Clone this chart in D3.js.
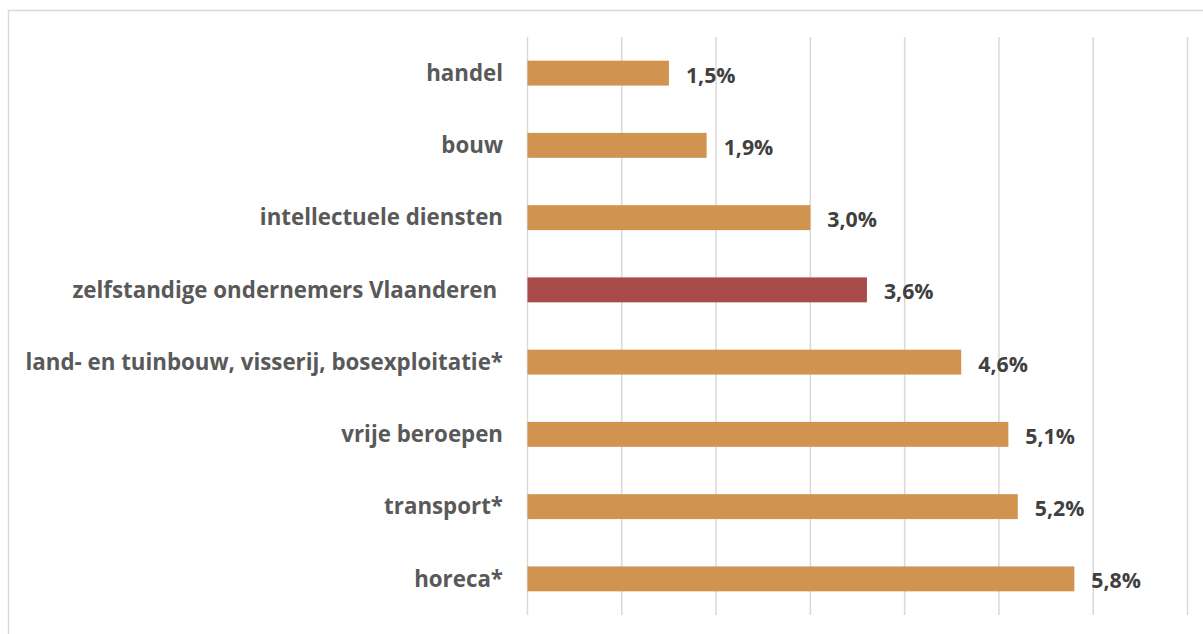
<!DOCTYPE html>
<html><head><meta charset="utf-8">
<script src="https://cdn.jsdelivr.net/npm/d3@7"></script>
<style>body{margin:0;background:#fff}svg{display:block}text{font-family:"Open Sans",sans-serif;font-weight:700;fill:#595959;white-space:pre}</style>
</head><body><svg id="c" width="1203" height="634"></svg>
<script>
const categories = ["handel","bouw","intellectuele diensten","zelfstandige ondernemers Vlaanderen ","land- en tuinbouw, visserij, bosexploitatie*","vrije beroepen","transport*","horeca*"];
const values = [1.5,1.9,3.0,3.6,4.6,5.1,5.2,5.8];
const valueLabels = ["1,5%","1,9%","3,0%","3,6%","4,6%","5,1%","5,2%","5,8%"];
const highlight = "zelfstandige ondernemers Vlaanderen ";
const xTicks = [0,1,2,3,4,5,6,7];

const svg = d3.select("#c");
// chart border
svg.append("rect").attr("x",8.5).attr("y",10.5).attr("width",1203).attr("height",640)
  .attr("fill","none").attr("stroke","#d9d9d9").attr("stroke-width",1.5);

const x = d3.scaleLinear().domain([0,7]).range([527.5,1187.5]);
const y = d3.scaleBand().domain(categories).range([37,615]).paddingInner(0.655).paddingOuter(0.3275);

svg.append("g").selectAll("line").data(xTicks).join("line")
  .attr("x1",d=>x(d)).attr("x2",d=>x(d)).attr("y1",37).attr("y2",615)
  .attr("stroke","#d9d9d9").attr("stroke-width",1.5);

svg.append("g").selectAll("rect").data(categories).join("rect")
  .attr("x",x(0)).attr("y",d=>y(d)).attr("width",(d,i)=>x(values[i])-x(0)).attr("height",y.bandwidth())
  .attr("fill",d=>d===highlight?"#A84A4A":"#D19350");

const cy = d=>y(d)+y.bandwidth()/2;
svg.append("g").selectAll("text").data(categories).join("text")
  .attr("x",503).attr("y",cy).attr("dy","0.35em").attr("text-anchor","end")
  .attr("font-size",22.3).text(d=>d);

svg.append("g").selectAll("text").data(categories).join("text")
  .attr("x",(d,i)=>x(values[i])+17).attr("y",cy).attr("dy","0.45em")
  .attr("font-size",21.3).style("fill","#404040").text((d,i)=>valueLabels[i]);
</script></body></html>
